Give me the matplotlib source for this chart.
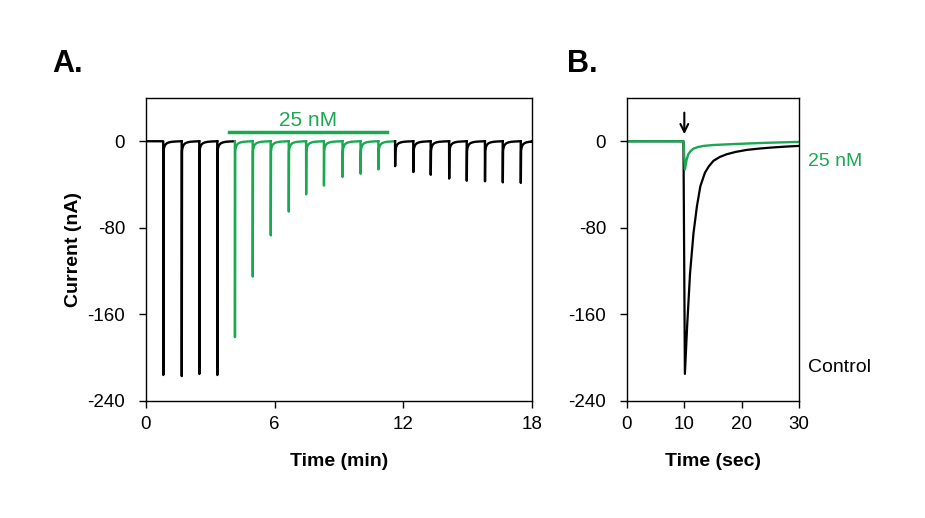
import numpy as np
import matplotlib
matplotlib.use('Agg')
import matplotlib.pyplot as plt

plt.rcParams['font.family'] = ['Liberation Sans', 'DejaVu Sans']
plt.rcParams['axes.unicode_minus'] = False

GREEN = '#1aa853'

# Panel A: pulse onset times (min) and peak currents (nA)
pulse_t = [0.81, 1.67, 2.49, 3.33,
           4.15, 4.98, 5.82, 6.66, 7.47, 8.30, 9.17, 10.01, 10.84,
           11.62, 12.47, 13.28, 14.14, 14.96, 15.81, 16.64, 17.48]
pulse_peak = [-216, -217, -215, -216,
              -181, -125, -87, -65, -49, -41, -33, -30, -26,
              -23, -28.5, -31, -34.5, -36.5, -37, -38, -38.5]
pulse_drug = [False] * 4 + [True] * 9 + [False] * 8
# recovery tail after each spike (offset in min, current in nA)
tail_dt = [0.012, 0.03, 0.06, 0.1, 0.17, 0.27, 0.4, 0.6]
tail_i = [-9, -6.5, -4.5, -3, -1.8, -1.0, -0.5, -0.2]
drug_on, drug_off = 3.87, 11.24

# Panel B: single responses (sec, nA)
ctrl_t = [0, 9.85, 10.1, 10.5, 11.0, 11.6, 12.2, 12.8, 13.6, 14.3, 15.1, 16.2, 17.4, 19.0, 20.9, 23.0, 25.0, 27.5, 30.0]
ctrl_i = [0, 0, -215, -170, -122, -85, -60, -41.5, -29, -23, -18, -14.5, -12, -9.8, -8, -6.8, -5.9, -5.0, -4.3]
drug_t = [0, 9.85, 10.1, 10.4, 10.7, 11.1, 11.6, 12.4, 13.4, 15.0, 17.0, 19.1, 24.0, 30.0]
drug_i = [0, 0, -26, -17, -12, -9, -6.8, -5.3, -4.3, -3.5, -3.0, -2.5, -1.5, -0.6]

fig = plt.figure(figsize=(9.25, 5.18), dpi=100)
axA = fig.add_axes([0.1578, 0.2259, 0.4173, 0.585])
axB = fig.add_axes([0.6778, 0.2259, 0.186, 0.585])

# one segment per pulse: flat baseline, spike, recovery tail
for k, (t0, pk) in enumerate(zip(pulse_t, pulse_peak)):
    col = GREEN if pulse_drug[k] else 'black'
    end = pulse_t[k + 1] - 0.005 if k + 1 < len(pulse_t) else 18.0
    ts = [t0 - 0.005, t0] + [t0 + d for d in tail_dt] + [end]
    cs = [0, pk] + tail_i + [0]
    if k == 0:
        ts = [0.0] + ts
        cs = [0] + cs
    axA.plot(ts, cs, color=col, lw=1.7, solid_joinstyle='round')

axA.plot([drug_on, drug_off], [8.4, 8.4], color=GREEN, lw=2.5)
axA.text((drug_on + drug_off) / 2, 10.5, '25 nM', color=GREEN, ha='center', va='bottom', fontsize=15)

axA.set_xlim(0, 18)
axA.set_ylim(-240, 40)
axA.set_xticks([0, 6, 12, 18])
axA.set_yticks([0, -80, -160, -240])
axA.set_xlabel('Time (min)', fontsize=14, fontweight='bold', labelpad=14)
axA.set_ylabel('Current (nA)', fontsize=14, fontweight='bold', labelpad=4)

axB.plot(ctrl_t, ctrl_i, color='black', lw=1.6)
axB.plot(drug_t, drug_i, color=GREEN, lw=1.7)
axB.annotate('', xy=(10, 4), xytext=(10, 29),
             arrowprops=dict(arrowstyle='->', color='black', lw=1.5, mutation_scale=14))
axB.set_xlim(0, 30)
axB.set_ylim(-240, 40)
axB.set_xticks([0, 10, 20, 30])
axB.set_yticks([0, -80, -160, -240])
axB.set_xlabel('Time (sec)', fontsize=14, fontweight='bold', labelpad=14)
axB.text(1.05, -18.5, '25 nM', color=GREEN, fontsize=14, va='center', ha='left',
         transform=axB.get_yaxis_transform())
axB.text(1.05, -209, 'Control', color='black', fontsize=14, va='center', ha='left',
         transform=axB.get_yaxis_transform())

for ax in (axA, axB):
    ax.tick_params(direction='out', length=5, width=1, labelsize=13.5)
    ax.tick_params(axis='x', pad=6)
    ax.tick_params(axis='y', pad=10)
    for s in ax.spines.values():
        s.set_linewidth(1)

fig.text(0.056, 0.861, 'A.', fontsize=22, fontweight='bold', va='baseline')
fig.text(0.613, 0.861, 'B.', fontsize=22, fontweight='bold', va='baseline')

fig.savefig('out.png', dpi=100)
